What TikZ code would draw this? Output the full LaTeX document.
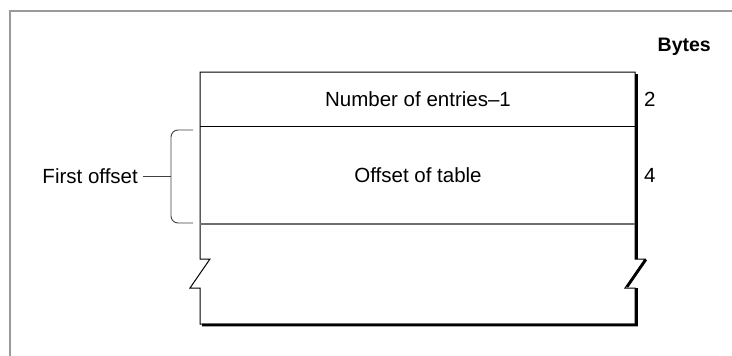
\documentclass[tikz,border=0pt]{standalone}
\usepackage{fontspec}
\setmainfont{Liberation Sans}
\usetikzlibrary{positioning}
\definecolor{framegray}{HTML}{9A9A9A}
\definecolor{rulegray}{HTML}{6E6E6E}
\definecolor{ink}{HTML}{000000}
\tikzset{
  frameline/.style={draw=framegray,line width=1.2pt},
  boxline/.style={draw=ink,line width=1pt,line join=miter},
  shadowline/.style={draw=ink,line width=2.6pt},
  fieldtext/.style={font=\fontsize{20.5}{24}\selectfont,inner sep=0pt},
  sizetext/.style={font=\fontsize{20.5}{24}\selectfont,inner sep=0pt},
  headtext/.style={font=\fontsize{19.5}{23}\selectfont\bfseries,inner sep=0pt},
  bracketline/.style={draw=ink!75,line width=0.9pt,rounded corners=7pt},
  tickline/.style={draw=ink!75,line width=0.9pt}
}

\begin{document}
\begin{tikzpicture}[x=1pt,y=-1pt]
        \path[use as bounding box] (0,0) rectangle (732,356);
        % outer frame, only top and left show
        \draw[frameline] (10,356) -- (10,11) -- (732,11);
        % record box with break marks
        \draw[shadowline] (636.5,74) -- (636.5,259) (646,259.5) -- (627,287)
                          (636.5,288) -- (636.5,325) -- (202,325);
        \draw[boxline] (200,72) -- (200,259) -- (210,259) -- (190,288)
             -- (200,288) -- (200,324) -- (635,324) -- (635,288)
             -- (625,288) -- (645,259) -- (635,259) -- (635,72) -- cycle;
        \coordinate (rowa) at (200,126);
        \coordinate (rowb) at (200,224);
        \draw[boxline] (rowa) -- ++(435,0);
        \draw[draw=rulegray,line width=1.2pt] (rowb) -- ++(435,0);
        % fields
        \node[fieldtext] (entries) at (418,99) {Number of entries--1};
        \node[fieldtext] (table) at (418,175) {Offset of table};
        \node[headtext,anchor=east] (bytes) at (711,47) {Bytes};
        \node[sizetext,anchor=west] (sizea) at (644,99) {2};
        \node[sizetext,anchor=west] (sizeb) at (644,175) {4};
        % bracket
        \coordinate (brtop) at (193,130);
        \coordinate (brbot) at (193,223);
        \coordinate (brmid) at (171,176);
        \draw[bracketline] (brtop) -| (brbot -| brmid) -- (brbot);
        \node[fieldtext,anchor=east] (first) at (138,176) {First offset};
        \draw[tickline] (first.east) ++(5,0) -- (brmid);
\end{tikzpicture}
\end{document}
